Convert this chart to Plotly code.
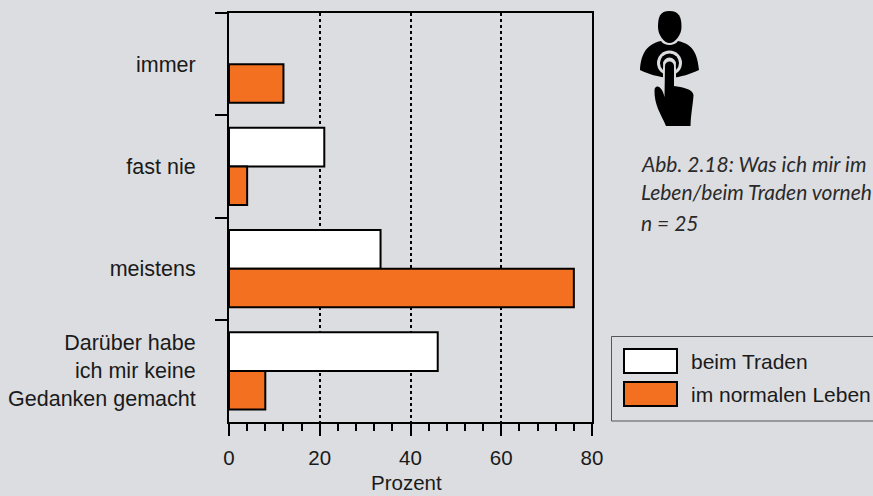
import plotly.graph_objects as go

categories = ["immer", "fast nie", "meistens", ["Darüber habe", "ich mir keine", "Gedanken gemacht"]]
trading_name = "beim Traden"
life_name = "im normalen Leben"
trading = [None, 21, 33.4, 46]
life = [12, 4, 76, 8]
x_major = [0, 20, 40, 60, 80]
caption = ["Abb. 2.18: Was ich mir im", "Leben/beim Traden vorneh", "n = 25"]
x_title = "Prozent"

W, H = 873, 496
L, R, T, B = 229, 592, 13, 422
BG = "#dcdde0"
ORANGE = "#f37021"
INK = "#1a1a1a"
FONT = "Liberation Sans, Arial, sans-serif"


def px(x):
    return (x - L) / (R - L)


def py(y):
    return (B - y) / (B - T)


def label(c):
    return "<br>".join(c) if isinstance(c, list) else c


labels = [label(c) for c in categories]

fig = go.Figure()
for name, vals, col in [(trading_name, trading, "white"), (life_name, life, ORANGE)]:
    fig.add_bar(y=labels, x=vals, name=name, orientation="h",
                marker=dict(color=col, line=dict(color="black", width=2)))


def C(cmds):
    out = []
    for c in cmds:
        if isinstance(c, str):
            out.append(c)
        else:
            out.append(f"{px(c[0]):.5f},{py(c[1]):.5f}")
    return " ".join(out)


def shape_path(path, fill):
    return dict(type="path", xref="paper", yref="paper", path=path, fillcolor=fill,
                line=dict(width=0), layer="above")


def circle(cx, cy, r, fill):
    return dict(type="circle", xref="paper", yref="paper", x0=px(cx - r), x1=px(cx + r),
                y0=py(cy + r), y1=py(cy - r), fillcolor=fill, line=dict(width=0), layer="above")


def rect(x0, y0, x1, y1, fill, lc, lw):
    return dict(type="rect", xref="paper", yref="paper", x0=px(x0), x1=px(x1),
                y0=py(y1), y1=py(y0), fillcolor=fill, line=dict(color=lc, width=lw), layer="above")


shapes = [
    # legend frame and swatches
    rect(611.5, 336.5, 890, 421, BG, "#555555", 1),
    rect(624, 349, 677, 373, "white", "black", 2),
    rect(624, 382, 677, 406, ORANGE, "black", 2),
    # icon: head
    shape_path(C(["M", (669.5, 11), "C", (660, 11), (658, 17), (658, 27), "C", (658, 35), (664, 43), (669.5, 43),
                  "C", (675, 43), (681.5, 35), (681.5, 27), "C", (681.5, 17), (679, 11), (669.5, 11), "Z"]), "black"),
    # icon: shoulders
    shape_path(C(["M", (661, 41), "C", (663, 44), (666, 45), (669.5, 45), "C", (673, 45), (676, 44), (678, 41),
                  "C", (690, 44), (697, 49), (699, 70), "C", (690, 74), (682, 77), (670, 78),
                  "C", (658, 77), (648, 74), (640, 70), "C", (641, 52), (648, 44), (661, 41), "Z"]), "black"),
    # icon: ring
    circle(669.5, 63, 12.5, BG),
    circle(669.5, 63, 9.5, "black"),
    circle(669.5, 64, 6.5, BG),
    # icon: finger and hand
    shape_path(C(["M", (663, 68), "C", (663, 59), (676, 59), (676, 68), "L", (676, 88), "L", (663, 92), "Z"]), BG),
    shape_path(C(["M", (665, 66), "C", (665, 60), (674, 60), (674, 66), "L", (674, 86),
                  "C", (682, 87), (693, 89), (693.5, 95), "C", (693, 105), (691, 112), (690.5, 126),
                  "L", (666, 126), "C", (661, 114), (654, 105), (654.5, 90), "C", (655, 84), (662, 85), (664.5, 97), "Z"]), "black"),
]

annotations = [
    dict(text=t, xref="paper", yref="paper", x=px(639), y=py(y), xanchor="left", yanchor="middle",
         showarrow=False, align="left", font=dict(family="Lato, sans-serif", size=21, color="#2a2a2a", style="italic"))
    for t, y in zip(caption, [163, 192, 222])
]
annotations += [
    dict(text=t, xref="paper", yref="paper", x=px(689), y=py(y), xanchor="left", yanchor="middle",
         showarrow=False, font=dict(family=FONT, size=21, color=INK))
    for t, y in [(trading_name, 361), (life_name, 394)]
]
annotations.append(
    dict(text=x_title, xref="paper", yref="paper", x=px(406), y=py(482.5), xanchor="center", yanchor="middle",
         showarrow=False, font=dict(family=FONT, size=20.5, color=INK))
)

fig.update_layout(
    width=W, height=H, autosize=False, showlegend=False,
    paper_bgcolor=BG, plot_bgcolor=BG,
    margin=dict(l=L, r=W - R, t=T, b=H - B, pad=0, autoexpand=False),
    barmode="group", bargap=0.243, bargroupgap=0,
    font=dict(family=FONT, size=20.5, color=INK),
    shapes=shapes, annotations=annotations,
)
fig.update_xaxes(
    range=[0, 80], tickvals=x_major, ticks="outside", ticklen=12, tickwidth=2, tickcolor="black",
    showline=True, linecolor="black", linewidth=2, mirror=True, automargin=False,
    showgrid=True, gridcolor="black", griddash="dot", gridwidth=2, zeroline=False,
    minor=dict(dtick=4, tick0=0, ticks="outside", ticklen=7, tickwidth=2, tickcolor="black", showgrid=False),
    tickfont=dict(size=20.5, color=INK), ticklabelstandoff=4,
)
fig.update_yaxes(
    autorange=False, range=[3.5, -0.5], type="category", tickson="boundaries",
    ticks="outside", ticklen=12, tickwidth=1.5, tickcolor="black", automargin=False,
    showline=True, linecolor="black", linewidth=2, mirror=True, showgrid=False, zeroline=False,
    tickfont=dict(size=21.5, color=INK), ticklabelstandoff=27,
)

fig.write_html("out.html", config={"displayModeBar": False},
               post_script="document.body.style.margin='0';document.documentElement.style.overflow='hidden';")
